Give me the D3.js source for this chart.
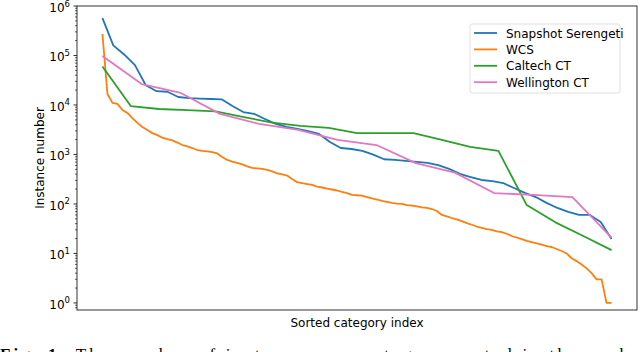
<!DOCTYPE html>
<html>
<head>
<meta charset="utf-8">
<script src="https://cdn.jsdelivr.net/npm/d3@7"></script>
<style>
  body { margin: 0; background: #fff; }
  svg { display: block; }
  text { font-family: "DejaVu Sans", sans-serif; fill: #000; }
</style>
</head>
<body>
<div class="box"></div>
<script>
// donnees (nombre d'instances par categorie, tri decroissant)
const serengeti = [570000, 160000, 105000, 64000, 25000, 19000, 18500, 14500, 13800, 13500,
  13200, 13000, 9500, 7200, 6600, 5200, 4150, 3600, 3300, 2950,
  2600, 1780, 1350, 1290, 1180, 990, 800, 780, 740, 710,
  675, 610, 510, 405, 350, 305, 290, 265, 210, 167,
  138, 105, 83, 69, 60, 60, 43, 19.5];

const wcs = [272000, 16700, 11000, 10500, 7900, 6900, 5450, 4350, 3600, 3120,
  2700, 2460, 2180, 2050, 1930, 1740, 1550, 1450, 1350, 1230,
  1180, 1150, 1120, 1050, 890, 775, 720, 675, 630, 575,
  535, 525, 510, 490, 455, 415, 395, 375, 320, 276,
  265, 253, 242, 225, 215, 205, 196, 187, 175, 166,
  152, 150, 148, 138, 129, 123, 115, 110, 105, 102,
  100, 95, 93, 89, 85, 83, 79, 72, 60, 56,
  52, 49, 45, 41, 38, 35, 33, 31, 30, 28,
  27, 25, 22.5, 21, 19.5, 18, 17, 16, 15, 14,
  13.5, 12.3, 11.2, 10, 8, 7, 6, 5, 4, 3,
  3, 1, 1];

const caltech = [60000, 9500, 8300, 7900, 7400, 5700, 4400, 3800, 3450, 2700,
  2700, 2700, 1970, 1420, 1180, 95, 43, 22.5, 11.7];

const wellington = [98000, 26500, 17500, 6600, 4150, 3150, 1970, 1550, 670, 430,
  166, 152, 138, 21];

const noms = ['Snapshot Serengeti', 'WCS', 'Caltech CT', 'Wellington CT'];
const couleurs = ['#1f77b4', '#ff7f0e', '#2ca02c', '#e377c2'];
const series = [serengeti, wcs, caltech, wellington];
const decades = [0, 1, 2, 3, 4, 5, 6];

const dims = {width: 640, height: 352, left: 77, right: 637, top: 6, bottom: 310};

const svg = d3.select('.box')
              .append('svg')
              .attr('width', dims.width)
              .attr('height', dims.height);

// index normalise de 0 a 1, marge de 5% comme matplotlib
const x = d3.scaleLinear()
            .domain([-0.05, 1.05])
            .range([dims.left, dims.right]);

const y = d3.scaleLog()
            .domain([0.72, 1e6])
            .range([dims.bottom, dims.top]);

const ligne = d3.line()
                .x(d => x(d.t))
                .y(d => y(d.v));

series.forEach((s, k) => {
    const pts = s.map((v, i) => ({t: i / (s.length - 1), v: v}));
    svg.append('path')
       .datum(pts)
       .attr('d', ligne)
       .attr('fill', 'none')
       .attr('stroke', couleurs[k])
       .attr('stroke-width', 1.8)
       .attr('stroke-linejoin', 'round');
});

// axe y log
const yAxis = svg.append('g').attr('transform', `translate(${dims.left},0)`);

const minors = [];
decades.forEach(e => {
    for (let m = 2; m <= 9; m++) {
        const v = m * Math.pow(10, e - 1);
        if (v >= 0.72 && v <= 1e6) minors.push(v);
    }
});

yAxis.selectAll('.mineur')
     .data(minors)
     .enter().append('line')
     .attr('x1', 0).attr('x2', -2)
     .attr('y1', d => y(d)).attr('y2', d => y(d))
     .attr('stroke', '#000').attr('stroke-width', 0.6);

const majeurs = yAxis.selectAll('.majeur')
     .data(decades)
     .enter().append('g')
     .attr('transform', d => `translate(0,${y(Math.pow(10, d))})`);

majeurs.append('line')
       .attr('x1', 0).attr('x2', -3.5)
       .attr('stroke', '#000').attr('stroke-width', 0.8);

const lab = majeurs.append('text')
       .attr('x', -7)
       .attr('y', 6)
       .attr('text-anchor', 'end')
       .style('font-size', '12px');
lab.append('tspan').text('10');
lab.append('tspan')
   .attr('dy', -5.5)
   .style('font-size', '8.5px')
   .text(d => d);

// cadre
svg.append('rect')
   .attr('x', dims.left).attr('y', dims.top)
   .attr('width', dims.right - dims.left)
   .attr('height', dims.bottom - dims.top)
   .attr('fill', 'none')
   .attr('stroke', '#000')
   .attr('stroke-width', 0.8);

// titres des axes
svg.append('text')
   .attr('x', (dims.left + dims.right) / 2)
   .attr('y', 327)
   .attr('text-anchor', 'middle')
   .style('font-size', '12px')
   .text('Sorted category index');

svg.append('text')
   .attr('transform', `translate(44,${(dims.top + dims.bottom) / 2}) rotate(-90)`)
   .attr('text-anchor', 'middle')
   .style('font-size', '12px')
   .text('Instance number');

// legende
const leg = svg.append('g').attr('transform', 'translate(470,24)');
leg.append('rect')
   .attr('width', 150).attr('height', 69)
   .attr('rx', 2)
   .attr('fill', '#fff')
   .attr('stroke', '#d8d8d8')
   .attr('stroke-width', 0.8);

const entrees = leg.selectAll('.entree')
   .data(noms)
   .enter().append('g')
   .attr('transform', (d, i) => `translate(0,${9 + i * 16.4})`);

entrees.append('line')
       .attr('x1', 4).attr('x2', 27)
       .attr('stroke', (d, i) => couleurs[i])
       .attr('stroke-width', 1.8);

entrees.append('text')
       .attr('x', 36).attr('y', 4.5)
       .style('font-size', '12px')
       .text(d => d);

// legende de la figure (coupee en bas comme sur l'original)
const cap = svg.append('text')
   .attr('x', 0).attr('y', 360)
   .attr('textLength', 628)
   .attr('lengthAdjust', 'spacing')
   .style('font-family', '"Liberation Serif", "DejaVu Serif", serif')
   .style('font-size', '17px');
cap.append('tspan').style('font-weight', 'bold').text('Fig. 1:');
cap.append('tspan').text('  The number of instances per category sorted in the each');
</script>
</body>
</html>
